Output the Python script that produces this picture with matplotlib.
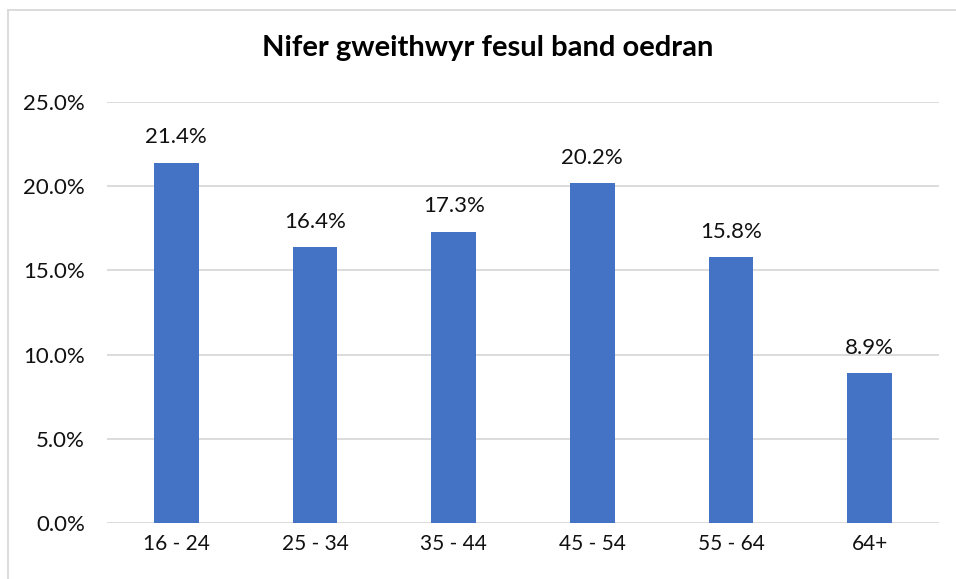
import matplotlib
matplotlib.use("Agg")
import matplotlib.pyplot as plt
from matplotlib.lines import Line2D

categories = ["16 - 24", "25 - 34", "35 - 44", "45 - 54", "55 - 64", "64+"]
values = [21.4, 16.4, 17.3, 20.2, 15.8, 8.9]
yticks = [0, 5, 10, 15, 20, 25]
title = "Nifer gweithwyr fesul band oedran"

plt.rcParams['font.family'] = ['Lato', 'DejaVu Sans']

fig = plt.figure(figsize=(9.56, 5.79), dpi=100)
ax = fig.add_axes([107/956, 1-523/579, (939-107)/956, (523-102)/579])

x = list(range(len(categories)))
bars = ax.bar(x, values, width=0.32, color="#4472C4", zorder=3)
ax.set_xlim(-0.5, len(categories)-0.5)
ax.set_ylim(0, 25)
ax.set_yticks(yticks)
ax.set_yticklabels([f"{v:.1f}%" for v in yticks], fontsize=16, color="#111111")
ax.set_xticks(x)
ax.set_xticklabels(categories, fontsize=15, color="#111111")
ax.tick_params(axis='both', length=0)
ax.tick_params(axis='y', pad=16)
ax.tick_params(axis='x', pad=8)
for s in ax.spines.values():
    s.set_visible(False)
ax.grid(axis='y', color="#d9d9d9", linewidth=1.3, zorder=0)
ax.set_axisbelow(True)

for xi, v in zip(x, values):
    ax.annotate(f"{v:.1f}%", (xi, v), xytext=(0, 11), textcoords="offset points",
                ha="center", va="bottom", fontsize=16, color="#111111")

fig.text(488/956, 1-48/579, title, ha="center", va="center",
         fontsize=21, fontweight="bold", color="#000000")

# chart border
fig.add_artist(Line2D([8/956, 8/956], [0, 1-9.5/579], transform=fig.transFigure,
                      color="#d9d9d9", linewidth=1.3))
fig.add_artist(Line2D([8/956, 1], [1-9.5/579, 1-9.5/579], transform=fig.transFigure,
                      color="#d9d9d9", linewidth=1.3))

fig.savefig("out.png", dpi=100)
